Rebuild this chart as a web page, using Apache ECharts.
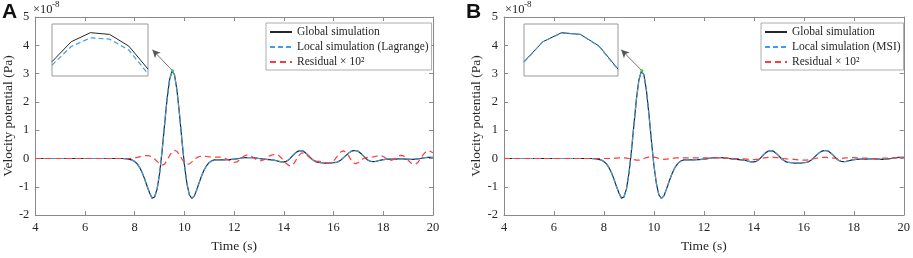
<!DOCTYPE html>
<html>
<head>
<meta charset="utf-8">
<script src="https://cdn.jsdelivr.net/npm/echarts@6/dist/echarts.min.js"></script>
<style>
html,body{margin:0;padding:0;background:#fff;}
#main{width:913px;height:258px;}
</style>
</head>
<body>
<div id="main"></div>
<script>
// time samples (s)
var timeS = [4.0,
  7.5, 7.6, 7.7, 7.8, 7.9, 8.0, 8.1, 8.2, 8.3, 8.4,
  8.5, 8.6, 8.7, 8.8, 8.9, 9.0, 9.1, 9.2, 9.3, 9.4,
  9.5, 9.6, 9.7, 9.8, 9.9, 10.0, 10.1, 10.2, 10.3, 10.4,
  10.5, 10.6, 10.7, 10.8, 10.9, 11.0, 11.1, 11.2, 11.3, 11.4,
  11.5, 11.6, 11.7, 11.8, 11.9, 12.0, 12.1, 12.2, 12.3, 12.4,
  12.5, 12.6, 12.7, 12.8, 12.9, 13.0, 13.1, 13.2, 13.3, 13.4,
  13.5, 13.6, 13.7, 13.8, 13.9, 14.0, 14.1, 14.2, 14.3, 14.4,
  14.5, 14.6, 14.7, 14.8, 14.9, 15.0, 15.1, 15.2, 15.3, 15.4,
  15.5, 15.6, 15.7, 15.8, 15.9, 16.0, 16.1, 16.2, 16.3, 16.4,
  16.5, 16.6, 16.7, 16.8, 16.9, 17.0, 17.1, 17.2, 17.3, 17.4,
  17.5, 17.6, 17.7, 17.8, 17.9, 18.0, 18.1, 18.2, 18.3, 18.4,
  18.5, 18.6, 18.7, 18.8, 18.9, 19.0, 19.1, 19.2, 19.3, 19.4,
  19.5, 19.6, 19.7, 19.8, 19.9, 20.0];

// global simulation (x1e-8 Pa); the local simulations overlap it at this scale
var globalSim = [0,
  0, -0.005, -0.013, -0.029, -0.058, -0.108, -0.19, -0.32, -0.50, -0.73,
  -0.98, -1.22, -1.40, -1.36, -1.08, -0.53, 0.26, 1.19, 2.10, 2.78,
  3.09, 2.96, 2.41, 1.57, 0.63, -0.24, -0.89, -1.29, -1.41, -1.32,
  -1.09, -0.83, -0.59, -0.39, -0.24, -0.14, -0.08, -0.05, -0.05, -0.05,
  -0.05, -0.05, -0.04, -0.04, -0.03, -0.02, -0.01, 0.0, 0.02, 0.03,
  0.03, 0.03, 0.03, 0.02, 0.01, 0.0, -0.01, -0.02, -0.03, -0.04,
  -0.05, -0.06, -0.08, -0.10, -0.12, -0.12, -0.10, -0.04, 0.05, 0.14,
  0.22, 0.27, 0.28, 0.25, 0.18, 0.09, 0.0, -0.07, -0.12, -0.14,
  -0.15, -0.16, -0.16, -0.16, -0.16, -0.15, -0.14, -0.11, -0.05, 0.03,
  0.11, 0.19, 0.25, 0.28, 0.28, 0.25, 0.18, 0.09, 0.0, -0.07,
  -0.10, -0.11, -0.10, -0.08, -0.06, -0.04, -0.03, -0.02, -0.02, -0.02,
  -0.02, -0.01, -0.01, -0.01, -0.02, -0.02, -0.03, -0.03, -0.02, -0.01,
  0.0, 0.02, 0.03, 0.04, 0.04, 0.04];
var localLagrange = globalSim;
var localMSI = globalSim;

// residual x 10^2, panel A (Lagrange)
var residualLagrange = [0,
  0, 0, 0, 0, 0.01, 0.02, 0.04, 0.06, 0.08, 0.10,
  0.10, 0.09, 0.05, -0.02, -0.10, -0.19, -0.24, -0.20, -0.06, 0.10,
  0.23, 0.29, 0.25, 0.13, -0.02, -0.14, -0.20, -0.19, -0.12, -0.04,
  0.03, 0.07, 0.08, 0.08, 0.07, 0.06, 0.05, 0.05, 0.05, 0.05,
  0.04, 0.02, -0.02, -0.07, -0.12, -0.14, -0.12, -0.06, 0.02, 0.09,
  0.12, 0.12, 0.08, 0.02, -0.04, -0.08, -0.08, -0.04, 0.02, 0.08,
  0.12, 0.14, 0.14, 0.10, 0.02, -0.08, -0.18, -0.25, -0.26, -0.18,
  -0.04, 0.10, 0.19, 0.20, 0.14, 0.06, -0.01, -0.06, -0.09, -0.10,
  -0.11, -0.13, -0.15, -0.16, -0.15, -0.09, 0.02, 0.14, 0.24, 0.27,
  0.22, 0.10, -0.05, -0.16, -0.18, -0.14, -0.07, 0.0, 0.03, 0.04,
  0.05, 0.06, 0.08, 0.10, 0.10, 0.07, 0.01, -0.05, -0.07, -0.04,
  0.02, 0.08, 0.11, 0.10, 0.04, -0.06, -0.15, -0.20, -0.20, -0.13,
  0.0, 0.13, 0.23, 0.27, 0.25, 0.20];

// residual x 10^2, panel B (MSI)
var residualMSI = [0,
  0, 0, 0, 0, 0, 0, 0, 0, 0, 0.01,
  0.01, 0.02, 0.02, 0.02, 0.01, 0.0, -0.02, -0.04, -0.06, -0.06,
  -0.04, 0.0, 0.03, 0.05, 0.06, 0.05, 0.03, 0.0, -0.02, -0.03,
  -0.02, -0.01, 0.0, 0.01, 0.02, 0.02, 0.02, 0.02, 0.02, 0.02,
  0.02, 0.02, 0.02, 0.02, 0.02, 0.02, 0.02, 0.02, 0.02, 0.02,
  0.02, 0.02, 0.02, 0.01, 0.01, 0.01, 0.0, 0.0, 0.0, 0.0,
  0.0, -0.01, -0.02, -0.03, -0.04, -0.04, -0.03, -0.02, 0.0, 0.02,
  0.03, 0.04, 0.05, 0.04, 0.03, 0.02, 0.01, 0.0, -0.01, -0.02,
  -0.02, -0.03, -0.04, -0.05, -0.06, -0.06, -0.06, -0.05, -0.03, -0.01,
  0.01, 0.03, 0.04, 0.04, 0.04, 0.03, 0.02, 0.01, 0.0, 0.0,
  0.0, 0.01, 0.02, 0.03, 0.03, 0.03, 0.02, 0.02, 0.01, 0.01,
  0.01, 0.0, 0.0, 0.0, 0.0, 0.0, 0.0, 0.01, 0.01, 0.01,
  0.01, 0.02, 0.02, 0.03, 0.03, 0.03];

// zoomed peak (insets)
var insetTime = [9.40, 9.45, 9.50, 9.55, 9.60, 9.65];
var insetGlobal = [3.033, 3.079, 3.100, 3.096, 3.069, 3.016];
var insetLagrange = [3.025, 3.068, 3.088, 3.085, 3.060, 3.005];
var insetMSI = [3.032, 3.079, 3.099, 3.096, 3.068, 3.015];

// axis ranges [min, max, interval]
var xRange = [4, 20, 2];
var yRange = [-2, 5, 1];

var axisColor = '#8a8a8a';
var textColor = '#262626';
var serif = '"Liberation Serif", "Times New Roman", serif';
var cBlack = '#262626', cBlue = '#3d9fe8', cRed = '#ff3b3b';

function pairs(xs, ys) {
  var out = [];
  for (var i = 0; i < xs.length; i++) out.push([xs[i], ys[i]]);
  return out;
}

function mainX(grid, pos) {
  var bottom = pos == 'bottom';
  return {
    type: 'value', gridIndex: grid, position: pos,
    min: xRange[0], max: xRange[1], interval: xRange[2],
    name: bottom ? 'Time (s)' : '', nameLocation: 'middle', nameGap: 22,
    nameTextStyle: {fontFamily: serif, fontSize: 13.5, color: textColor},
    axisLine: {onZero: false, lineStyle: {color: axisColor, width: 1}},
    axisTick: {inside: true, length: 4, lineStyle: {color: axisColor}},
    axisLabel: {show: bottom, margin: 6, fontFamily: serif, fontSize: 12.5, color: textColor},
    splitLine: {show: false}
  };
}

function mainY(grid, pos) {
  var left = pos == 'left';
  return {
    type: 'value', gridIndex: grid, position: pos,
    min: yRange[0], max: yRange[1], interval: yRange[2],
    name: left ? 'Velocity potential (Pa)' : '', nameLocation: 'middle', nameGap: 17,
    nameTextStyle: {fontFamily: serif, fontSize: 13.5, color: textColor},
    axisLine: {onZero: false, lineStyle: {color: axisColor, width: 1}},
    axisTick: {inside: true, length: 4, lineStyle: {color: axisColor}},
    axisLabel: {show: left, margin: 6, fontFamily: serif, fontSize: 12.5, color: textColor},
    splitLine: {show: false}
  };
}

function insetX(grid) {
  return {type: 'value', gridIndex: grid, min: 9.40, max: 9.65, show: false};
}
function insetY(grid) {
  return {type: 'value', gridIndex: grid, min: 3.00, max: 3.12, show: false};
}

function lineSeries(name, xi, yi, data, color, dash, width, z) {
  return {
    name: name, type: 'line', xAxisIndex: xi, yAxisIndex: yi,
    data: data, symbol: 'none', z: z,
    lineStyle: {color: color, width: width, type: dash},
    itemStyle: {color: color}
  };
}

function arrow(peak, tip) {
  return {
    silent: true, symbol: ['none', 'arrow'], symbolSize: [6, 8],
    label: {show: false},
    lineStyle: {color: '#555', width: 0.8, type: 'solid'},
    data: [[{coord: peak}, {coord: tip}]]
  };
}
function peakDot(peak) {
  return {
    silent: true, symbol: 'circle', symbolSize: 3,
    itemStyle: {color: '#3cc43c'}, label: {show: false},
    data: [{coord: peak}]
  };
}

var peakPt = [9.52, 3.10];
var tipA = [8.71, 3.845];
var tipB = [8.69, 3.845];

function legendBox(left, names) {
  return {
    left: left, top: 23, orient: 'vertical',
    data: names,
    itemWidth: 22, itemHeight: 12, itemGap: 3,
    padding: [3, 3, 2, 3],
    borderColor: '#999', borderWidth: 0.8, borderRadius: 0,
    backgroundColor: '#fff',
    itemStyle: {opacity: 0, borderWidth: 0},
    textStyle: {fontFamily: serif, fontSize: 11.5, color: textColor, lineHeight: 12},
    selectedMode: false
  };
}

var myChart = echarts.init(document.getElementById('main'));

var sA = lineSeries('Global simulation', 0, 0, pairs(timeS, globalSim), cBlack, 'solid', 1.2, 2);
sA.markLine = arrow(peakPt, tipA);
sA.markPoint = peakDot(peakPt);
var sB = lineSeries('Global simulation', 3, 3, pairs(timeS, globalSim), cBlack, 'solid', 1.2, 2);
sB.markLine = arrow(peakPt, tipB);
sB.markPoint = peakDot(peakPt);

var option = {
  animation: false,
  backgroundColor: '#fff',
  grid: [
    {left: 32, top: 17, width: 401, height: 203},
    {left: 52, top: 24, width: 96, height: 52, show: true, borderColor: '#999', borderWidth: 1, backgroundColor: '#fff', z: 5},
    {left: 504, top: 17, width: 401, height: 203},
    {left: 524, top: 24, width: 94, height: 52, show: true, borderColor: '#999', borderWidth: 1, backgroundColor: '#fff', z: 5}
  ],
  xAxis: [mainX(0, 'bottom'), mainX(0, 'top'), insetX(1), mainX(2, 'bottom'), mainX(2, 'top'), insetX(3)],
  yAxis: [mainY(0, 'left'), mainY(0, 'right'), insetY(1), mainY(2, 'left'), mainY(2, 'right'), insetY(3)],
  legend: [
    legendBox(266, ['Global simulation', 'Local simulation (Lagrange)', 'Residual × 10²']),
    legendBox(761, ['Global simulation', 'Local simulation (MSI)', 'Residual × 10²'])
  ],
  series: [
    sA,
    lineSeries('Local simulation (Lagrange)', 0, 0, pairs(timeS, localLagrange), cBlue, [5, 3], 1.2, 3),
    lineSeries('Residual × 10²', 0, 0, pairs(timeS, residualLagrange), cRed, [6, 4], 1.2, 4),
    lineSeries('inset A global', 2, 2, pairs(insetTime, insetGlobal), cBlack, 'solid', 1, 6),
    lineSeries('inset A local', 2, 2, pairs(insetTime, insetLagrange), cBlue, [5, 3], 1.2, 7),
    sB,
    lineSeries('Local simulation (MSI)', 3, 3, pairs(timeS, localMSI), cBlue, [5, 3], 1.2, 3),
    lineSeries('Residual × 10²', 3, 3, pairs(timeS, residualMSI), cRed, [6, 4], 1.2, 4),
    lineSeries('inset B global', 5, 5, pairs(insetTime, insetGlobal), cBlack, 'solid', 1, 6),
    lineSeries('inset B local', 5, 5, pairs(insetTime, insetMSI), cBlue, [5, 3], 1.2, 7)
  ],
  graphic: [
    {type: 'text', left: 2, top: 2, style: {text: 'A', fontFamily: '"Liberation Sans", Arial, sans-serif', fontWeight: 'bold', fontSize: 21, fill: '#111'}},
    {type: 'text', left: 466, top: 2, style: {text: 'B', fontFamily: '"Liberation Sans", Arial, sans-serif', fontWeight: 'bold', fontSize: 21, fill: '#111'}},
    {type: 'text', left: 33, top: 3, style: {text: '×10', fontFamily: serif, fontSize: 12.5, fill: textColor}},
    {type: 'text', left: 52, top: 0, style: {text: '-8', fontFamily: serif, fontSize: 9, fill: textColor}},
    {type: 'text', left: 505, top: 3, style: {text: '×10', fontFamily: serif, fontSize: 12.5, fill: textColor}},
    {type: 'text', left: 524, top: 0, style: {text: '-8', fontFamily: serif, fontSize: 9, fill: textColor}}
  ]
};

myChart.setOption(option);
</script>
</body>
</html>
